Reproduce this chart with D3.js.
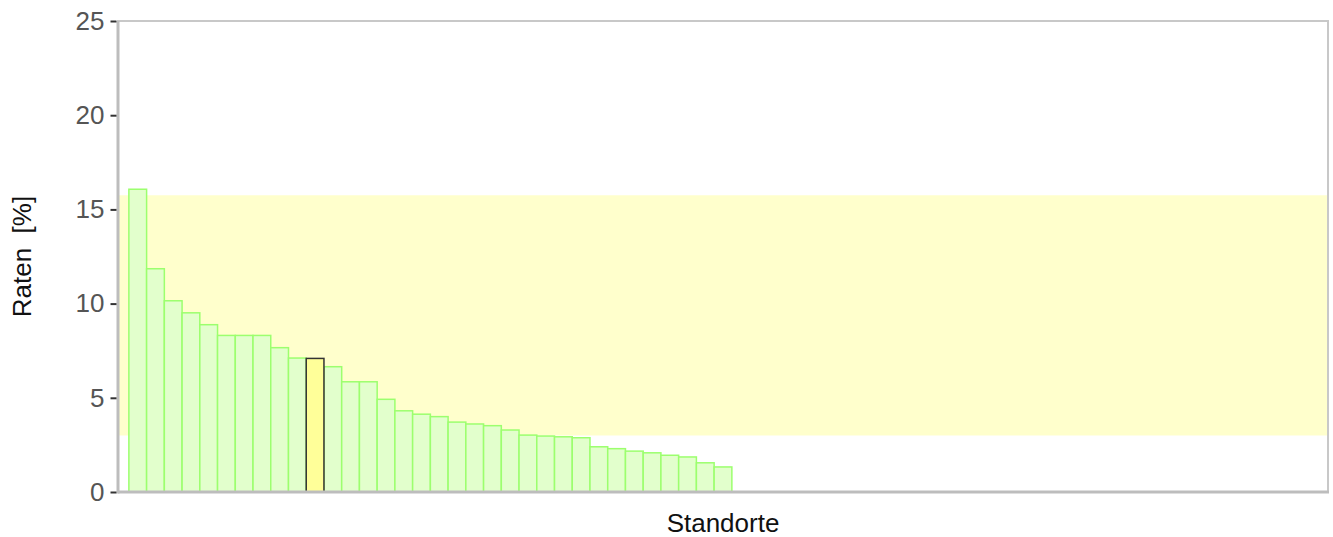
<!DOCTYPE html>
<html>
<head>
<meta charset="utf-8">
<script src="https://cdn.jsdelivr.net/npm/d3@7"></script>
<style>
  body { margin: 0; background: #fff; }
  svg text { font-family: "Liberation Sans", Arial, sans-serif; }
</style>
</head>
<body>
<div id="chart"></div>
<script>
var width = 1333, height = 537;

// Standorte, absteigend sortiert
var rates = [16.07, 11.85, 10.15, 9.51, 8.88, 8.31, 8.31, 8.31, 7.66, 7.11,
             7.09, 6.65, 5.85, 5.85, 4.92, 4.31, 4.13, 4.0, 3.71, 3.61,
             3.52, 3.29, 3.02, 2.97, 2.93, 2.88, 2.40, 2.30, 2.17, 2.08,
             1.95, 1.86, 1.55, 1.33];
var highlightIndex = 10;          // eigener Standort
var band = [3.0, 15.75];          // Referenzbereich
var yTicks = [0, 5, 10, 15, 20, 25];
var slots = 68;

var plot = { left: 118, right: 1328, top: 21, bottom: 492 };

var svg = d3.select("#chart").append("svg")
    .attr("width", width)
    .attr("height", height);

var y = d3.scaleLinear().domain([0, 25]).range([plot.bottom, plot.top]);
var x = d3.scaleLinear().domain([0, slots]).range([plot.left + 2, plot.right - 2]);

// Referenzbereich
svg.append("rect")
    .attr("x", plot.left)
    .attr("y", y(band[1]))
    .attr("width", plot.right - plot.left)
    .attr("height", y(band[0]) - y(band[1]))
    .attr("fill", "#ffffcc");

// Balken
svg.selectAll(".bar")
    .data(rates)
    .enter()
    .append("rect")
    .attr("class", "bar")
    .attr("x", function (d, i) { return x(i + 0.5); })
    .attr("y", function (d) { return y(d); })
    .attr("width", function (d, i) { return x(i + 1.5) - x(i + 0.5); })
    .attr("height", function (d) { return y(0) - y(d); })
    .attr("fill", function (d, i) { return i === highlightIndex ? "#ffff99" : "#e2ffcc"; })
    .attr("stroke", function (d, i) { return i === highlightIndex ? "#333" : "#9cff6e"; })
    .attr("stroke-width", 1.5);
// markierten Balken nach vorne
svg.selectAll(".bar").filter(function (d, i) { return i === highlightIndex; }).raise();

// Rahmen
svg.append("rect")
    .attr("x", plot.left)
    .attr("y", plot.top)
    .attr("width", plot.right - plot.left)
    .attr("height", plot.bottom - plot.top)
    .attr("fill", "none")
    .attr("stroke", "#c8c8c8")
    .attr("stroke-width", 2);

svg.append("line")
    .attr("x1", plot.left).attr("x2", plot.left)
    .attr("y1", plot.top).attr("y2", plot.bottom + 1.5)
    .attr("stroke", "#bdbdbd").attr("stroke-width", 3);
svg.append("line")
    .attr("x1", plot.left).attr("x2", plot.right + 1)
    .attr("y1", plot.bottom).attr("y2", plot.bottom)
    .attr("stroke", "#bdbdbd").attr("stroke-width", 3);

// y-Achse
var yAxis = svg.append("g")
    .attr("transform", "translate(" + (plot.left - 1.5) + ",0)")
    .call(d3.axisLeft(y).tickValues(yTicks).tickSize(6).tickPadding(6));
yAxis.select(".domain").remove();
yAxis.selectAll(".tick line").attr("stroke", "#333").attr("stroke-width", 2);
yAxis.selectAll(".tick text")
    .attr("fill", "#555")
    .style("font-size", "26px")
    .style("font-family", "Liberation Sans, Arial, sans-serif");

// Achsentitel
svg.append("text")
    .attr("x", (plot.left + plot.right) / 2)
    .attr("y", 532)
    .attr("text-anchor", "middle")
    .style("font-size", "26px")
    .attr("fill", "#111")
    .text("Standorte");

svg.append("text")
    .attr("transform", "translate(31," + ((plot.top + plot.bottom) / 2) + ") rotate(-90)")
    .attr("text-anchor", "middle")
    .style("font-size", "26px")
    .style("white-space", "pre")
    .attr("fill", "#111")
    .text("Raten  [%]");
</script>
</body>
</html>
